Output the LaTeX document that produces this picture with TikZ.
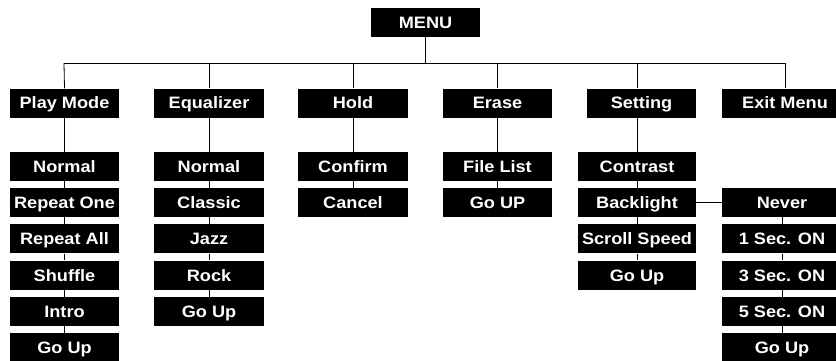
\documentclass[tikz,border=0pt]{standalone}
\usepackage{fontspec}
\newfontfamily\boxfont{Liberation Sans}[FakeStretch=1.1]
\begin{document}
\begin{tikzpicture}[x=1pt,y=-1pt,
  mbox/.style={fill=black,text=white,inner sep=0pt,minimum height=29pt,minimum width=#1,
    text height=11.8pt,text depth=0pt,
    font=\boxfont\bfseries\fontsize{16.5}{16.5}\selectfont},
  mbox/.default=109pt,
  conn/.style={draw=black,line width=0.8pt}]
\useasboundingbox (0,0) rectangle (836,360);
% top
\node[mbox] (menu) at (425.5,22.5) {MENU};
% level 1
\node[mbox] (pm) at (64.5,103) {Play Mode};
\node[mbox=110pt] (eq) at (209,103) {Equalizer};
\node[mbox=110pt] (hold) at (353,103) {Hold};
\node[mbox] (erase) at (497.5,103) {Erase};
\node[mbox] (set) at (641.5,103) {Setting};
\node[mbox=126pt] (exit) at (785,103) {Exit Menu};
% play mode column
\node[mbox] (pm1) at (64.5,166.5) {Normal};
\node[mbox] (pm2) at (64.5,202.7) {Repeat One};
\node[mbox] (pm3) at (64.5,238.9) {Repeat All};
\node[mbox] (pm4) at (64.5,275.1) {Shuffle};
\node[mbox] (pm5) at (64.5,311.3) {Intro};
\node[mbox] (pm6) at (64.5,347.5) {Go Up};
% equalizer column
\node[mbox=110pt] (eq1) at (209,166.5) {Normal};
\node[mbox=110pt] (eq2) at (209,202.7) {Classic};
\node[mbox=110pt] (eq3) at (209,238.9) {Jazz};
\node[mbox=110pt] (eq4) at (209,275.1) {Rock};
\node[mbox=110pt] (eq5) at (209,311.3) {Go Up};
% hold column
\node[mbox=110pt] (ho1) at (353,166.5) {Confirm};
\node[mbox=110pt] (ho2) at (353,202.7) {Cancel};
% erase column
\node[mbox] (er1) at (497.5,166.5) {File List};
\node[mbox] (er2) at (497.5,202.7) {Go UP};
% setting column
\node[mbox=118pt] (se1) at (637,166.5) {Contrast};
\node[mbox=118pt] (se2) at (637,202.7) {Backlight};
\node[mbox=118pt] (se3) at (637,238.9) {Scroll Speed};
\node[mbox=118pt] (se4) at (637,275.1) {Go Up};
% backlight column
\node[mbox=120pt] (bl1) at (782,202.7) {Never};
\node[mbox=120pt] (bl2) at (782,238.9) {1 Sec. ON};
\node[mbox=120pt] (bl3) at (782,275.1) {3 Sec. ON};
\node[mbox=120pt] (bl4) at (782,311.3) {5 Sec. ON};
\node[mbox=120pt] (bl5) at (782,347.5) {Go Up};
% bus
\coordinate (busL) at (64,63);
\coordinate (busR) at (785,63);
\coordinate (busS) at (637,63);
\draw[conn] (busL) -- (busR);
\draw[conn] (menu.south) -- (menu.south |- busL);
\draw[conn] (busL) -- (pm.north);
\draw[conn] (eq.north |- busL) -- (eq.north);
\draw[conn] (hold.north |- busL) -- (hold.north);
\draw[conn] (erase.north |- busL) -- (erase.north);
\draw[conn] (busS) -- (busS |- set.north);
\draw[conn] (busR) -- (exit.north);
% column connectors
\draw[conn] (pm.south) -- (pm1.north) (pm1.south) -- (pm2.north) (pm2.south) -- (pm3.north)
  (pm3.south) -- (pm4.north) (pm4.south) -- (pm5.north) (pm5.south) -- (pm6.north);
\draw[conn] (eq.south) -- (eq1.north) (eq1.south) -- (eq2.north) (eq2.south) -- (eq3.north)
  (eq3.south) -- (eq4.north) (eq4.south) -- (eq5.north);
\draw[conn] (hold.south) -- (ho1.north) (ho1.south) -- (ho2.north);
\draw[conn] (erase.south) -- (er1.north) (er1.south) -- (er2.north);
\draw[conn] (se1.north |- set.south) -- (se1.north) (se1.south) -- (se2.north)
  (se2.south) -- (se3.north) (se3.south) -- (se4.north);
\draw[conn] (se2.east) -- (bl1.west);
\draw[conn] (bl1.south) -- (bl2.north) (bl2.south) -- (bl3.north) (bl3.south) -- (bl4.north)
  (bl4.south) -- (bl5.north);
\end{tikzpicture}
\end{document}
